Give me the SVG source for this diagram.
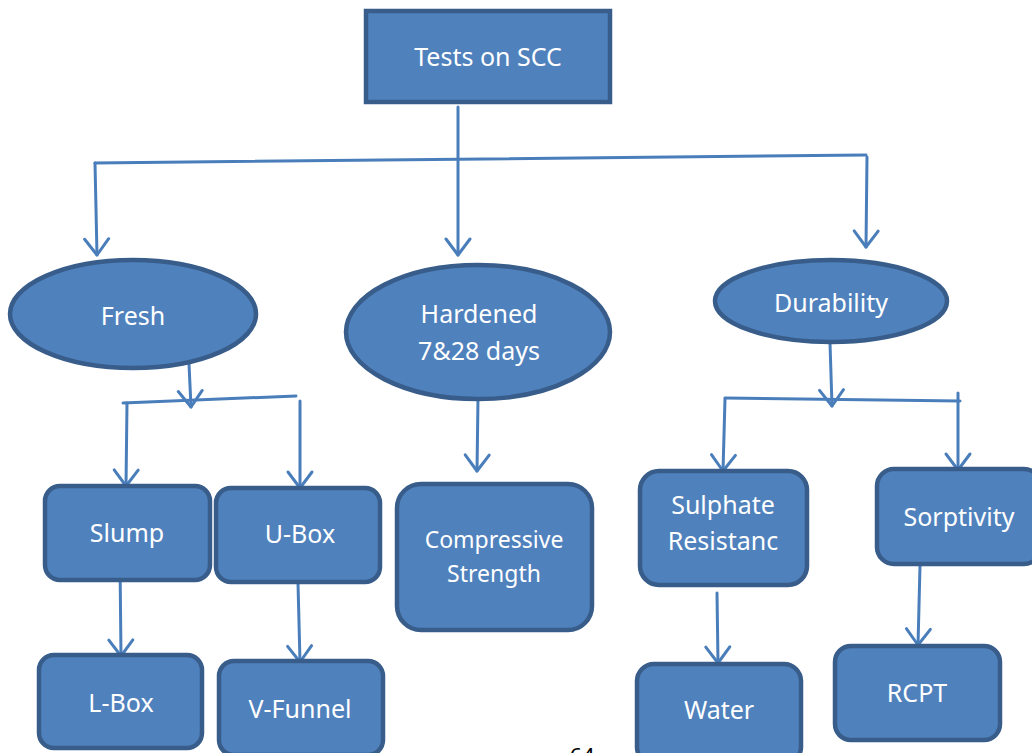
<svg xmlns="http://www.w3.org/2000/svg" width="1032" height="753" viewBox="0 0 1032 753">
  <defs>
    <style>
      .node { fill: #4F81BD; stroke: #385D8A; stroke-width: 4.5; }
      .label { fill: #FFFFFF; font-family: "Noto Sans", "Open Sans", sans-serif; font-size: 25px; text-anchor: middle; }
      .small { font-size: 23px; }
      .wire { fill: none; stroke: #4A7EBB; stroke-width: 3; stroke-linecap: round; }
      .arrow { marker-end: url(#vhead); }
      .page { fill: #000000; font-family: "Noto Sans", sans-serif; font-size: 22px; text-anchor: middle; }
    </style>
    <!-- open V arrowhead -->
    <marker id="vhead" markerUnits="userSpaceOnUse" viewBox="-20 -20 40 40" markerWidth="40" markerHeight="40" refX="0" refY="0" orient="auto" overflow="visible">
      <path d="M -16 -12 L 0 0 L -16 12" fill="none" stroke="#4A7EBB" stroke-width="3" stroke-linecap="round" stroke-linejoin="round"/>
    </marker>
  </defs>

  <rect width="1032" height="753" fill="#FFFFFF"/>

  <!-- connectors -->
  <g id="connectors">
    <!-- root branch -->
    <line class="wire" x1="95" y1="163" x2="866" y2="155"/>
    <line class="wire arrow" x1="458" y1="107" x2="458" y2="255"/>
    <line class="wire arrow" x1="95" y1="163" x2="97" y2="255"/>
    <line class="wire arrow" x1="867" y1="157" x2="866" y2="247"/>

    <!-- fresh branch -->
    <line class="wire arrow" x1="189" y1="364" x2="191" y2="407"/>
    <line class="wire" x1="123" y1="403" x2="296" y2="396"/>
    <line class="wire arrow" x1="127" y1="403" x2="126" y2="486"/>
    <line class="wire arrow" x1="300" y1="401" x2="300" y2="488"/>
    <line class="wire arrow" x1="120" y1="562" x2="121" y2="656"/>
    <line class="wire arrow" x1="298" y1="583" x2="300" y2="662"/>

    <!-- hardened branch -->
    <line class="wire arrow" x1="478" y1="398" x2="477" y2="471"/>

    <!-- durability branch -->
    <line class="wire arrow" x1="830" y1="343" x2="832" y2="406"/>
    <line class="wire" x1="725" y1="398" x2="960" y2="401"/>
    <line class="wire arrow" x1="725" y1="399" x2="723" y2="471"/>
    <line class="wire arrow" x1="958" y1="393" x2="958" y2="470"/>
    <line class="wire arrow" x1="717" y1="593" x2="718" y2="663"/>
    <line class="wire arrow" x1="920" y1="566" x2="918" y2="645"/>
  </g>

  <g id="root">
    <rect class="node" x="366" y="11" width="244" height="91"/>
    <text class="label" x="488" y="66">Tests on SCC</text>
  </g>

  <g id="fresh">
    <ellipse class="node" cx="133" cy="314" rx="123" ry="54"/>
    <text class="label" x="133" y="325">Fresh</text>
  </g>

  <g id="hardened">
    <ellipse class="node" cx="478" cy="332" rx="132" ry="67"/>
    <text class="label" x="479" y="323">Hardened</text>
    <text class="label" x="479" y="360">7&amp;28 days</text>
  </g>

  <g id="durability">
    <ellipse class="node" cx="831" cy="301" rx="116" ry="41"/>
    <text class="label" x="831" y="312">Durability</text>
  </g>

  <g id="slump">
    <rect class="node" x="45" y="486" width="165" height="94" rx="15"/>
    <text class="label" x="127" y="542">Slump</text>
  </g>

  <g id="ubox">
    <rect class="node" x="216" y="488" width="164" height="94" rx="15"/>
    <text class="label" x="300" y="543">U-Box</text>
  </g>

  <g id="lbox">
    <rect class="node" x="39" y="655" width="163" height="93" rx="15"/>
    <text class="label" x="121" y="712">L-Box</text>
  </g>

  <g id="vfunnel">
    <rect class="node" x="219" y="661" width="164" height="94" rx="15"/>
    <text class="label" x="300" y="718">V-Funnel</text>
  </g>

  <g id="compressive">
    <rect class="node" x="397" y="484" width="195" height="146" rx="24"/>
    <text class="label small" x="494" y="548">Compressive</text>
    <text class="label small" x="494" y="582">Strength</text>
  </g>

  <g id="sulphate">
    <rect class="node" x="640" y="471" width="167" height="114" rx="19"/>
    <text class="label" x="723" y="514">Sulphate</text>
    <text class="label" x="723" y="550">Resistanc</text>
  </g>

  <g id="sorptivity">
    <rect class="node" x="877" y="469" width="164" height="95" rx="17"/>
    <text class="label" x="959" y="526">Sorptivity</text>
  </g>

  <g id="water">
    <rect class="node" x="637" y="664" width="164" height="100" rx="17"/>
    <text class="label" x="719" y="719">Water</text>
  </g>

  <g id="rcpt">
    <rect class="node" x="835" y="646" width="165" height="94" rx="16"/>
    <text class="label" x="917" y="702">RCPT</text>
  </g>

  <!-- page number at the lower edge -->
  <text class="page" x="582" y="764">64</text>
</svg>
